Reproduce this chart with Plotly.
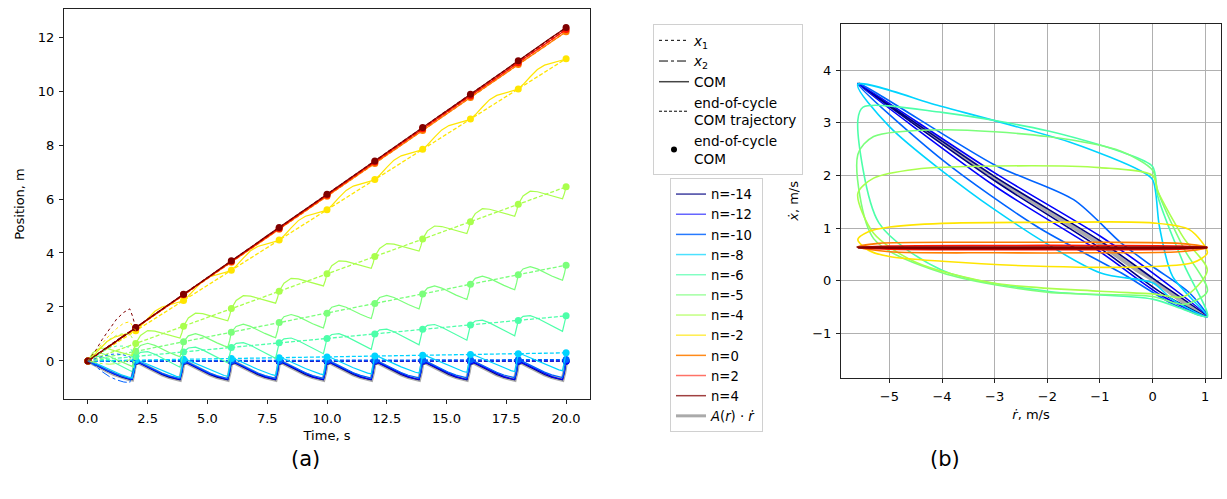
import plotly.graph_objects as go

# ---------------- data: panel (a) ----------------
n_values = [-14, -12, -10, -8, -6, -5, -4, -2, 0, 2, 4]
n_colors = ["rgb(0,0,128)", "rgb(0,0,255)", "rgb(0,99,255)", "rgb(0,212,255)",
            "rgb(77,255,169)", "rgb(123,255,123)", "rgb(169,255,77)",
            "rgb(255,229,0)", "rgb(255,125,0)", "rgb(255,20,0)", "rgb(128,0,0)"]
n_colors_legend = ["rgba(0,0,128,0.75)", "rgba(0,0,255,0.6)", "rgba(0,99,255,0.85)",
                   "rgba(0,212,255,0.7)", "rgba(77,255,169,0.7)", "rgba(123,255,123,0.7)",
                   "rgba(169,255,77,0.7)", "rgba(255,229,0,0.7)", "rgba(255,125,0,0.9)",
                   "rgba(255,20,0,0.6)", "rgba(128,0,0,0.75)"]

cycle_t = [0, 2, 4, 6, 8, 10, 12, 14, 16, 18, 20]

# end-of-cycle COM position, m
eoc_m14 = [0, -0.01, -0.01, -0.01, -0.01, -0.01, -0.01, -0.01, -0.01, -0.01, -0.01]
eoc_m12 = [0, 0.0, 0.0, 0.0, 0.0, 0.0, 0.0, 0.0, 0.0, 0.0, 0.0]
eoc_m10 = [0, 0.005, 0.01, 0.015, 0.02, 0.025, 0.03, 0.035, 0.04, 0.045, 0.05]
eoc_m8 = [0, 0.03, 0.06, 0.09, 0.12, 0.15, 0.18, 0.21, 0.24, 0.27, 0.30]
eoc_m6 = [0, 0.167, 0.33, 0.50, 0.67, 0.83, 1.00, 1.17, 1.33, 1.50, 1.67]
eoc_m5 = [0, 0.355, 0.71, 1.06, 1.42, 1.77, 2.13, 2.48, 2.84, 3.19, 3.55]
eoc_m4 = [0, 0.645, 1.29, 1.94, 2.58, 3.23, 3.87, 4.52, 5.16, 5.81, 6.45]
eoc_m2 = [0, 1.12, 2.24, 3.36, 4.48, 5.60, 6.72, 7.84, 8.96, 10.08, 11.20]
eoc_0 = [0, 1.22, 2.44, 3.66, 4.88, 6.10, 7.32, 8.54, 9.76, 10.98, 12.20]
eoc_2 = [0, 1.228, 2.46, 3.68, 4.91, 6.14, 7.37, 8.60, 9.82, 11.05, 12.28]
eoc_4 = [0, 1.235, 2.47, 3.71, 4.94, 6.18, 7.41, 8.65, 9.88, 11.12, 12.35]

# COM excursion within one cycle, relative to the cycle start
phase = [0, 0.2, 0.5, 0.8, 1.1, 1.4, 1.7, 1.85, 1.93, 2.0]
dev_m14 = [0, -0.08, -0.22, -0.36, -0.49, -0.59, -0.67, -0.69, -0.40, -0.01]
dev_m12 = [0, -0.08, -0.21, -0.35, -0.48, -0.58, -0.66, -0.68, -0.40, 0.0]
dev_m10 = [0, -0.07, -0.20, -0.34, -0.46, -0.56, -0.64, -0.66, -0.38, 0.005]
dev_m8 = [0, -0.04, -0.15, -0.28, -0.40, -0.51, -0.60, -0.63, -0.30, 0.03]
dev_m6 = [0, 0.15, 0.18, 0.08, -0.06, -0.20, -0.34, -0.40, -0.10, 0.167]
dev_m5 = [0, 0.22, 0.30, 0.22, 0.08, -0.04, -0.15, -0.20, 0.05, 0.355]
dev_m4 = [0, 0.30, 0.48, 0.46, 0.38, 0.30, 0.22, 0.20, 0.40, 0.645]
dev_m2 = [0, 0.16, 0.45, 0.72, 0.88, 0.95, 1.01, 1.05, 1.09, 1.12]
dev_0 = [0, 0.13, 0.31, 0.49, 0.67, 0.85, 1.04, 1.13, 1.18, 1.22]
dev_2 = [0, 0.12, 0.31, 0.49, 0.68, 0.86, 1.05, 1.14, 1.19, 1.228]
dev_4 = [0, 0.12, 0.31, 0.49, 0.68, 0.87, 1.05, 1.14, 1.19, 1.235]

# first-cycle body positions x1 (dotted) and x2 (dash-dot)
t_first = [0, 0.3, 0.6, 0.9, 1.2, 1.5, 1.75, 1.85, 2.0]
x1_4 = [0, 0.35, 0.80, 1.20, 1.55, 1.80, 1.93, 1.70, 1.24]
x1_m2 = [0, 0.30, 0.65, 0.95, 1.20, 1.40, 1.45, 1.30, 1.12]
x1_m4 = [0, 0.25, 0.55, 0.80, 0.95, 1.02, 1.00, 0.85, 0.65]
x1_m6 = [0, 0.15, 0.35, 0.48, 0.55, 0.55, 0.50, 0.35, 0.17]
x1_m10 = [0, 0.08, 0.18, 0.24, 0.26, 0.22, 0.15, 0.05, 0.0]
x2_4 = [0, 0.18, 0.38, 0.58, 0.78, 0.95, 1.05, 1.10, 1.24]
x2_m4 = [0, -0.05, -0.10, -0.12, -0.10, -0.05, 0.05, 0.30, 0.65]
x2_m10 = [0, -0.18, -0.40, -0.58, -0.70, -0.78, -0.80, -0.50, 0.0]

# ---------------- data: panel (b) ----------------
rd_4 = [-5.6, -4.0, -2.0, 0.0, 1.04, 0.0, -2.0, -4.0, -5.6]
xd_4 = [0.63, 0.63, 0.63, 0.63, 0.63, 0.62, 0.62, 0.62, 0.63]
rd_2 = [-5.6, -5.0, -3.0, -1.0, 0.5, 1.04, 0.5, -1.0, -3.0, -5.0, -5.6]
xd_2 = [0.63, 0.66, 0.67, 0.67, 0.66, 0.63, 0.60, 0.59, 0.59, 0.60, 0.63]
rd_0 = [-5.6, -5.2, -3.0, -1.0, 0.5, 1.04, 0.5, -1.0, -3.0, -5.0, -5.6]
xd_0 = [0.64, 0.71, 0.73, 0.73, 0.71, 0.63, 0.55, 0.53, 0.53, 0.55, 0.64]
rd_m2 = [-5.6, -5.4, -5.0, -4.0, -2.0, 0.0, 0.7, 1.04, 0.76, 0.0, -2.0, -4.0, -5.0, -5.4, -5.6]
xd_m2 = [0.78, 0.93, 1.02, 1.09, 1.11, 1.10, 0.97, 0.53, 0.34, 0.27, 0.27, 0.37, 0.46, 0.58, 0.78]
rd_m4 = [-5.6, -5.3, -4.5, -3.0, -1.0, 0.0, 0.1, 0.6, 1.04, 0.6, 0.0, -1.0, -3.0, -4.5, -5.3, -5.6]
xd_m4 = [1.66, 1.95, 2.12, 2.18, 2.15, 2.00, 1.70, 0.80, 0.20, -0.30, -0.25, -0.20, -0.05, 0.35, 0.90, 1.66]
rd_m5 = [-5.6, -5.3, -4.0, -2.0, -0.6, 0.0, 0.1, 0.6, 1.04, 0.6, 0.0, -2.0, -4.0, -5.3, -5.6]
xd_m5 = [2.40, 2.74, 2.87, 2.74, 2.46, 2.10, 1.70, 0.60, -0.20, -0.45, -0.30, -0.22, 0.15, 0.80, 2.40]
rd_m6 = [-5.6, -5.5, -4.0, -2.0, -0.6, 0.0, 0.1, 0.6, 1.04, 0.6, 0.0, -2.0, -4.0, -5.2, -5.6]
xd_m6 = [3.05, 3.30, 3.20, 2.85, 2.45, 2.17, 1.60, 0.30, -0.68, -0.55, -0.35, -0.20, 0.20, 1.10, 3.05]
rd_m8 = [-5.6, -4.0, -1.5, -0.25, 0.0, 0.13, 0.38, 1.04, 0.38, 0.0, -1.0, -3.0, -5.0, -5.6]
xd_m8 = [3.73, 3.31, 2.61, 2.10, 1.92, 1.03, 0.08, -0.68, -0.36, -0.04, 0.15, 1.35, 2.93, 3.73]
rd_m10 = [-5.6, -3.0, -1.5, -0.6, 0.0, 0.7, 1.04, 0.4, -0.6, -2.2, -4.0, -5.6]
xd_m10 = [3.75, 2.20, 1.54, 0.72, 0.27, -0.23, -0.68, -0.45, 0.15, 1.03, 2.30, 3.75]
rd_m12 = [-5.6, -3.0, -1.0, 0.0, 1.04, 0.2, -1.0, -3.0, -5.6]
xd_m12 = [3.75, 2.05, 0.85, 0.15, -0.68, -0.30, 0.55, 1.80, 3.75]
rd_m14 = [-5.6, -3.0, -1.0, 0.0, 1.04, 0.2, -1.0, -3.0, -5.6]
xd_m14 = [3.75, 1.98, 0.76, 0.05, -0.68, -0.25, 0.62, 1.90, 3.75]
rd_A = [-5.6, -3.0, -1.0, -0.3, 0.0, 0.5, 1.04]
xd_A = [3.75, 1.95, 0.70, 0.20, 0.02, -0.35, -0.68]

eoc_list = [eoc_m14, eoc_m12, eoc_m10, eoc_m8, eoc_m6, eoc_m5, eoc_m4, eoc_m2, eoc_0, eoc_2, eoc_4]
dev_list = [dev_m14, dev_m12, dev_m10, dev_m8, dev_m6, dev_m5, dev_m4, dev_m2, dev_0, dev_2, dev_4]
rd_list = [rd_m14, rd_m12, rd_m10, rd_m8, rd_m6, rd_m5, rd_m4, rd_m2, rd_0, rd_2, rd_4]
xd_list = [xd_m14, xd_m12, xd_m10, xd_m8, xd_m6, xd_m5, xd_m4, xd_m2, xd_0, xd_2, xd_4]

fig = go.Figure()

def com_curve(eoc, dev):
    ts, xs = [], []
    for k in range(len(eoc) - 1):
        for j, p in enumerate(phase):
            if k > 0 and j == 0:
                continue
            ts.append(cycle_t[k] + p)
            xs.append(eoc[k] + dev[j])
    return ts, xs

# gray A(r)*rdot reference under the blue curves in (a)
ta, xa = com_curve(eoc_m14, dev_m14)
fig.add_trace(go.Scatter(x=ta, y=xa, mode="lines", line=dict(color="rgba(150,150,150,0.8)", width=4),
                         showlegend=False, hoverinfo="skip", xaxis="x", yaxis="y"))

for i, n in enumerate(n_values):
    c = n_colors[i]
    ts, xs = com_curve(eoc_list[i], dev_list[i])
    fig.add_trace(go.Scatter(x=ts, y=xs, mode="lines", line=dict(color=c, width=1.2),
                             showlegend=False, xaxis="x", yaxis="y"))
    fig.add_trace(go.Scatter(x=cycle_t, y=eoc_list[i], mode="lines+markers",
                             line=dict(color=c, width=1.3, dash="4px,2px"),
                             marker=dict(color=c, size=7), showlegend=False, xaxis="x", yaxis="y"))

x1_sets = [(x1_4, n_colors[10]), (x1_m2, n_colors[7]), (x1_m4, n_colors[6]), (x1_m6, n_colors[4]), (x1_m10, n_colors[2])]
for ys, c in x1_sets:
    fig.add_trace(go.Scatter(x=t_first, y=ys, mode="lines", line=dict(color=c, width=1, dash="dot"),
                             showlegend=False, xaxis="x", yaxis="y"))
x2_sets = [(x2_4, n_colors[10]), (x2_m4, n_colors[6]), (x2_m10, n_colors[2])]
for ys, c in x2_sets:
    fig.add_trace(go.Scatter(x=t_first, y=ys, mode="lines", line=dict(color=c, width=1, dash="dashdot"),
                             showlegend=False, xaxis="x", yaxis="y"))

# panel (b)
fig.add_trace(go.Scatter(x=rd_A, y=xd_A, mode="lines", line=dict(color="rgb(170,170,170)", width=4),
                         showlegend=False, xaxis="x2", yaxis="y2"))
for i, n in enumerate(n_values):
    w = 2.6 if n == 4 else 1.6
    fig.add_trace(go.Scatter(x=rd_list[i], y=xd_list[i], mode="lines",
                             line=dict(color=n_colors[i], width=w, shape="spline", smoothing=0.8),
                             showlegend=False, xaxis="x2", yaxis="y2"))

# legend 1 (line styles)
sty = [("<i>x</i><sub>1</sub>", dict(color="black", width=1, dash="dot"), "lines"),
       ("<i>x</i><sub>2</sub>", dict(color="black", width=1, dash="dashdot"), "lines"),
       ("COM", dict(color="#444", width=1.5), "lines"),
       ("end-of-cycle<br>COM trajectory", dict(color="black", width=1, dash="3px,2px"), "lines"),
       ("end-of-cycle<br>COM", None, "markers")]
for name, ln, mode in sty:
    if mode == "lines":
        fig.add_trace(go.Scatter(x=[None], y=[None], mode="lines", line=ln, name=name,
                                 legend="legend", xaxis="x", yaxis="y"))
    else:
        fig.add_trace(go.Scatter(x=[None], y=[None], mode="markers", marker=dict(color="black", size=6),
                                 name=name, legend="legend", xaxis="x", yaxis="y"))

for i, n in enumerate(n_values):
    fig.add_trace(go.Scatter(x=[None], y=[None], mode="lines", line=dict(color=n_colors_legend[i], width=1.5),
                             name=f"n={n}", legend="legend2", xaxis="x", yaxis="y"))
fig.add_trace(go.Scatter(x=[None], y=[None], mode="lines", line=dict(color="rgb(170,170,170)", width=3),
                         name="<i>A</i>(<i>r</i>) · <i>ṙ</i>", legend="legend2", xaxis="x", yaxis="y"))

font = dict(family="DejaVu Sans", size=13, color="black")
lfont = dict(family="DejaVu Sans", size=13.6, color="black")
lfont2 = dict(family="DejaVu Sans", size=13.2, color="black")
ax_common = dict(showline=True, mirror=True, linecolor="#222", linewidth=1, ticks="outside",
                 ticklen=4, tickcolor="#222", zeroline=False, tickfont=font)

fig.update_layout(
    width=1227, height=499, margin=dict(l=0, r=0, t=0, b=0),
    paper_bgcolor="white", plot_bgcolor="white", font=font,
    xaxis=dict(domain=[64 / 1227, 590 / 1227], range=[-1, 21], anchor="y",
               tickvals=[0, 2.5, 5, 7.5, 10, 12.5, 15, 17.5, 20],
               ticktext=["0.0", "2.5", "5.0", "7.5", "10.0", "12.5", "15.0", "17.5", "20.0"],
               ticklabelstandoff=3,
               showgrid=False, title=dict(text="Time, s", font=font, standoff=6), **ax_common),
    yaxis=dict(domain=[1 - 399 / 499, 1 - 9 / 499], range=[-1.41, 13.04], anchor="x",
               tickvals=[0, 2, 4, 6, 8, 10, 12], ticklabelstandoff=2,
               showgrid=False, title=dict(text="Position, m", font=font, standoff=10), **ax_common),
    xaxis2=dict(domain=[841 / 1227, 1221 / 1227], range=[-5.92, 1.30], anchor="y2",
                tickvals=[-5, -4, -3, -2, -1, 0, 1],
                ticktext=["−5", "−4", "−3", "−2", "−1", "0", "1"], ticklabelstandoff=3,
                showgrid=True, gridcolor="#b0b0b0", gridwidth=1,
                title=dict(text="<i>ṙ</i>, m/s", font=font, standoff=6), **ax_common),
    yaxis2=dict(domain=[1 - 377.7 / 499, 1 - 24 / 499], range=[-1.844, 4.88], anchor="x2",
                tickvals=[-1, 0, 1, 2, 3, 4], ticklabelstandoff=2,
                ticktext=["−1", "0", "1", "2", "3", "4"],
                showgrid=True, gridcolor="#b0b0b0", gridwidth=1,
                title=dict(text="<i>ẋ</i>, m/s", font=font, standoff=10), **ax_common),
    legend=dict(x=653 / 1227, y=1 - 24 / 499, xanchor="left", yanchor="top", bgcolor="white",
                bordercolor="#d0d0d0", borderwidth=1, font=lfont, itemwidth=30, tracegroupgap=0),
    legend2=dict(x=670 / 1227, y=1 - 178 / 499, xanchor="left", yanchor="top", bgcolor="white",
                 bordercolor="#d0d0d0", borderwidth=1, font=lfont2, tracegroupgap=0),
    annotations=[
        dict(text="(a)", x=305 / 1227, y=1 - 459 / 499, xref="paper", yref="paper", showarrow=False,
             xanchor="center", yanchor="middle", font=dict(family="DejaVu Sans", size=21, color="black")),
        dict(text="(b)", x=945 / 1227, y=1 - 459 / 499, xref="paper", yref="paper", showarrow=False,
             xanchor="center", yanchor="middle", font=dict(family="DejaVu Sans", size=21, color="black")),
    ],
)

fig.write_html("out.html", config={"displayModeBar": False},
               post_script="document.body.style.margin='0';document.body.style.overflow='hidden';")
